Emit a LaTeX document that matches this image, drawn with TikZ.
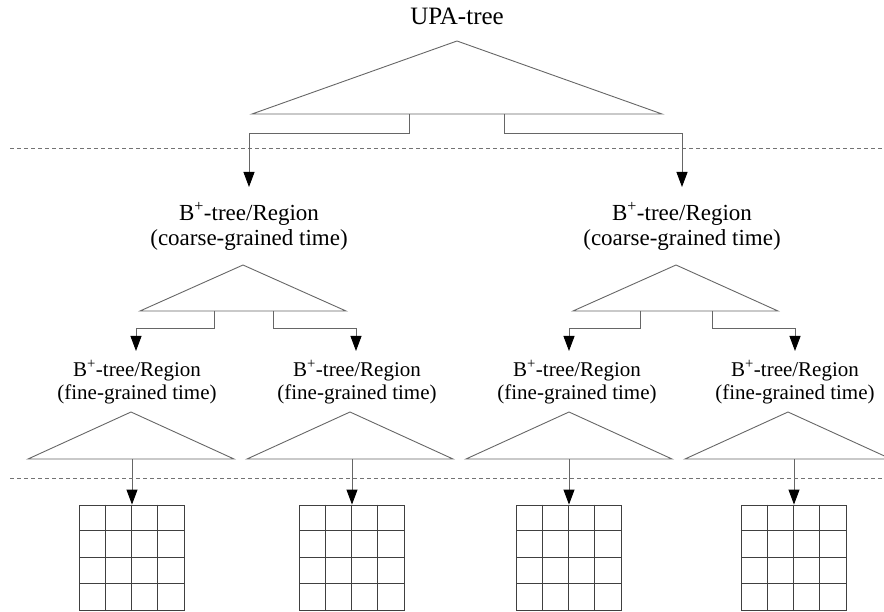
\documentclass[tikz,border=0pt]{standalone}
\usepackage{fontspec}
\setmainfont{Liberation Serif}
\usetikzlibrary{positioning, arrows.meta, calc}

\begin{document}
\begin{tikzpicture}[x=1pt,y=-1pt,>={Triangle[length=15pt,width=11pt,color=black]},
    tri/.style={draw=black!60,line width=0.9pt},
    link/.style={draw=black!60,line width=0.9pt},
    sepline/.style={draw=black!55,line width=0.7pt,dash pattern=on 4pt off 3pt},
    lbl/.style={font=\fontsize{23}{25}\selectfont,align=center,inner sep=0pt},
    finelbl/.style={lbl,font=\fontsize{21}{23}\selectfont},
    cellbox/.style={draw=black!75,line width=0.9pt,minimum size=105pt,inner sep=0pt}]
    \useasboundingbox (0,0) rectangle (884,612);

    % top level
    \node[lbl,font=\fontsize{25}{28}\selectfont] (upa) at (457,16) {UPA-tree};
    \coordinate (upaT) at (457,41);
    \draw[tri] (upaT) -- (662,114) -- (252,114) -- cycle;
    \draw[sepline] (10,148) -- (884,148);

    % coarse level
    \node[lbl] (cl) at (249,226) {B\textsuperscript{+}-tree/Region\\(coarse-grained time)};
    \node[lbl] (cr) at (682,226) {B\textsuperscript{+}-tree/Region\\(coarse-grained time)};
    \coordinate (clT) at (243,265);
    \coordinate (crT) at (676,265);
    \draw[tri] (clT) -- (346,311) -- (140,311) -- cycle;
    \draw[tri] (crT) -- (778,311) -- (573,311) -- cycle;
    \draw[link,->] (409,114) -- (409,133) -| (249,187);
    \draw[link,->] (504,114) -- (504,133) -| (682,187);

    % fine level
    \node[finelbl] (f1) at (137,382) {B\textsuperscript{+}-tree/Region\\(fine-grained time)};
    \node[finelbl] (f2) at (357,382) {B\textsuperscript{+}-tree/Region\\(fine-grained time)};
    \node[finelbl] (f3) at (577,382) {B\textsuperscript{+}-tree/Region\\(fine-grained time)};
    \node[finelbl] (f4) at (795,382) {B\textsuperscript{+}-tree/Region\\(fine-grained time)};
    \draw[link,->] (214,311) -- (214,328) -| (136,351);
    \draw[link,->] (273,311) -- (273,328) -| (356,351);
    \draw[link,->] (640,311) -- (640,328) -| (569,351);
    \draw[link,->] (712,311) -- (712,328) -| (795,351);

    \foreach \n/\x/\g in {1/131/132, 2/350/352, 3/569/569, 4/788/794} {
        \coordinate (t\n) at (\x,412);
        \draw[tri] (t\n) -- ++(103,47) -- ++(-206,0) -- cycle;
        \node[cellbox] (g\n) at (\g,557.5) {};
        \foreach \i in {1,2,3} {
            \draw[cellbox] ($(g\n.north west)+(\i*26.25,0)$) -- ($(g\n.south west)+(\i*26.25,0)$);
            \draw[cellbox] ($(g\n.north west)+(0,\i*26.25)$) -- ($(g\n.north east)+(0,\i*26.25)$);
        }
        \draw[link,->] (\g,459) -- (g\n.north);
    }
    \draw[sepline] (10,478) -- (884,478);
\end{tikzpicture}
\end{document}
